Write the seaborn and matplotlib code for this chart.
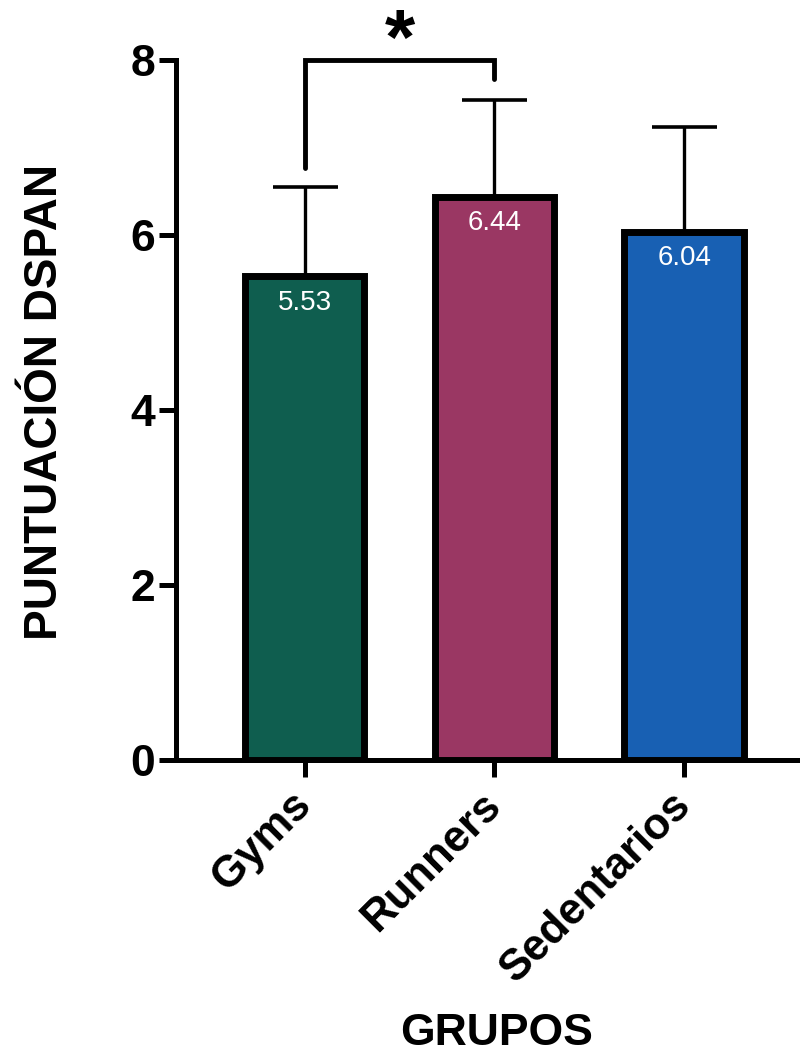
import matplotlib
matplotlib.use("Agg")
import matplotlib.pyplot as plt
import matplotlib.transforms as mtransforms
import seaborn as sns
import numpy as np
import pandas as pd

# Group means (DSPAN score), upper standard deviations and bar colours
groups = ["Gyms", "Runners", "Sedentarios"]
means = [5.53, 6.44, 6.04]
sds = [1.02, 1.10, 1.20]
colors = ["#0F5E4F", "#9A3763", "#1860B3"]
yticks = [0, 2, 4, 6, 8]

# Significance bracket between Gyms and Runners
bracket_pair = (0, 1)
bracket_top = 8.0
bracket_feet = (6.77, 7.78)
bracket_label = "*"

sns.set_theme(style="ticks")
plt.rcParams["font.family"] = ["Liberation Sans", "DejaVu Sans"]
plt.rcParams["text.color"] = "black"
plt.rcParams["axes.labelcolor"] = "black"
plt.rcParams["xtick.color"] = "black"
plt.rcParams["ytick.color"] = "black"

df = pd.DataFrame({"grupo": groups, "score": means})

fig = plt.figure(figsize=(8.0, 10.51), dpi=100)
ax = fig.add_axes([0.22, 0.2769, 0.78, 0.666])

sns.barplot(data=df, x="grupo", y="score", hue="grupo", palette=colors,
            legend=False, width=0.63, edgecolor="black", linewidth=5,
            saturation=1, ax=ax, zorder=3)

xpos = np.arange(len(groups))
ax.errorbar(xpos, means, yerr=[np.zeros(len(sds)), sds], fmt="none",
            ecolor="black", elinewidth=2.4, capsize=23.4, capthick=2.6,
            zorder=2)

# value labels inside the bars
for x, m in zip(xpos, means):
    ax.text(x, m - 0.385, f"{m:.2f}", ha="center", va="baseline",
            color="white", fontsize=20, zorder=5)

# significance bracket
x0, x1 = bracket_pair
ax.plot([x0, x0, x1, x1],
        [bracket_feet[0], bracket_top, bracket_top, bracket_feet[1]],
        color="black", lw=3.5, clip_on=False, solid_joinstyle="miter",
        zorder=4)
ax.text((x0 + x1) / 2, 7.95, bracket_label, ha="center", va="baseline",
        fontsize=56, fontweight="bold", clip_on=False)

ax.set_xlim(-0.677, 2.61)
ax.set_ylim(0, 8)
ax.set_yticks(yticks)
ax.set_yticklabels([str(t) for t in yticks], fontsize=32, fontweight="bold")

ax.set_xticks(xpos)
ax.set_xticklabels(groups, fontsize=31.5, fontweight="bold", rotation=45,
                   ha="right", va="center", rotation_mode="anchor")
shift = mtransforms.ScaledTranslation(7 / 72, 0, fig.dpi_scale_trans)
for lbl in ax.get_xticklabels():
    lbl.set_transform(lbl.get_transform() + shift)

for side in ["top", "right"]:
    ax.spines[side].set_visible(False)
for side in ["left", "bottom"]:
    ax.spines[side].set_linewidth(3.6)
    ax.spines[side].set_color("black")
    ax.spines[side].set_capstyle("projecting")

ax.tick_params(axis="y", length=12, width=3.6, pad=3, color="black")
ax.tick_params(axis="x", length=12, width=3.6, pad=16, color="black")

ax.set_xlabel("GRUPOS", fontsize=32, fontweight="bold")
ax.set_ylabel("PUNTUACIÓN DSPAN", fontsize=33, fontweight="bold")
ax.xaxis.set_label_coords(0.513, -0.362)
ax.xaxis.label.set_va("top")
ax.yaxis.set_label_coords(-0.175, 0.511)

fig.savefig("out.png", dpi=100)
